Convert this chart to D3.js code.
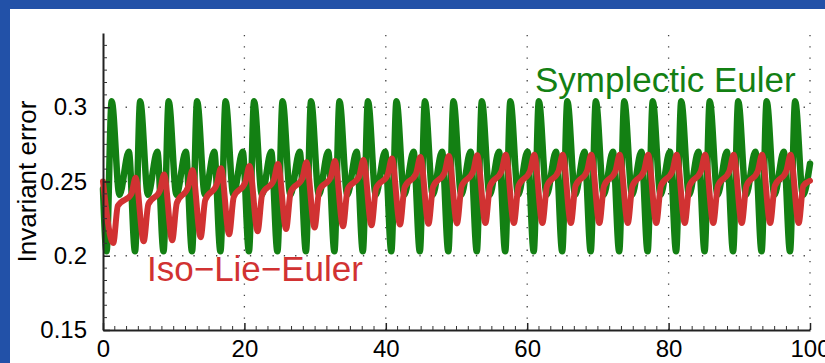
<!DOCTYPE html>
<html>
<head>
<meta charset="utf-8">
<script src="https://cdn.jsdelivr.net/npm/d3@7"></script>
<style>
  body { margin: 0; }
  svg { display: block; font-family: "Liberation Sans", Arial, sans-serif; }
</style>
</head>
<body>
<div id="chart"></div>
<script>
// axis ticks
const xTicks = [0, 20, 40, 60, 80, 100];
const xTickLabels = ["0", "20", "40", "60", "80", "100"];
const yTicks = [0.15, 0.2, 0.25, 0.3];
const yTickLabels = ["0.15", "0.2", "0.25", "0.3"];
const yLabel = "Invariant error";

// Symplectic Euler (peak / shallow dip / second peak / deep dip)
const greenX = [0, 0.5,
  1.23, 2.33, 3.65, 4.53, 5.26, 6.36, 7.68, 8.56, 9.29, 10.39, 11.71, 12.59,
  13.31, 14.41, 15.73, 16.61, 17.34, 18.44, 19.76, 20.64, 21.37, 22.47, 23.79, 24.67,
  25.40, 26.50, 27.82, 28.70, 29.43, 30.53, 31.85, 32.73, 33.45, 34.55, 35.87, 36.75,
  37.48, 38.58, 39.90, 40.78, 41.51, 42.61, 43.93, 44.81, 45.54, 46.64, 47.96, 48.84,
  49.57, 50.67, 51.99, 52.87, 53.59, 54.69, 56.01, 56.89, 57.62, 58.72, 60.04, 60.92,
  61.65, 62.75, 64.07, 64.95, 65.68, 66.78, 68.10, 68.98, 69.71, 70.81, 72.13, 73.01,
  73.73, 74.83, 76.15, 77.03, 77.76, 78.86, 80.18, 81.06, 81.79, 82.89, 84.21, 85.09,
  85.82, 86.92, 88.24, 89.12, 89.85, 90.95, 92.27, 93.15, 93.87, 94.97, 96.29, 97.17,
  97.90, 99.00, 100];
const greenY = [0.245, 0.203,
  0.304, 0.241, 0.270, 0.203, 0.304, 0.241, 0.270, 0.203, 0.304, 0.241, 0.270, 0.203,
  0.304, 0.241, 0.270, 0.203, 0.304, 0.241, 0.270, 0.203, 0.304, 0.241, 0.270, 0.203,
  0.304, 0.241, 0.270, 0.203, 0.304, 0.241, 0.270, 0.203, 0.304, 0.241, 0.270, 0.203,
  0.304, 0.241, 0.270, 0.203, 0.304, 0.241, 0.270, 0.203, 0.304, 0.241, 0.270, 0.203,
  0.304, 0.241, 0.270, 0.203, 0.304, 0.241, 0.270, 0.203, 0.304, 0.241, 0.270, 0.203,
  0.304, 0.241, 0.270, 0.203, 0.304, 0.241, 0.270, 0.203, 0.304, 0.241, 0.270, 0.203,
  0.304, 0.241, 0.270, 0.203, 0.304, 0.241, 0.270, 0.203, 0.304, 0.241, 0.270, 0.203,
  0.304, 0.241, 0.270, 0.203, 0.304, 0.241, 0.270, 0.203, 0.304, 0.241, 0.270, 0.203,
  0.304, 0.241, 0.262];

// Iso-Lie-Euler (dip / knee / shoulder / peak)
const redX = [0,
  1.45, 2.10, 4.01, 4.61, 5.76, 6.41, 8.04, 8.64, 9.79, 10.44, 12.06, 12.66,
  13.81, 14.46, 16.09, 16.69, 17.84, 18.49, 20.12, 20.72, 21.87, 22.52, 24.15, 24.75,
  25.90, 26.55, 28.18, 28.78, 29.93, 30.58, 32.20, 32.80, 33.95, 34.60, 36.23, 36.83,
  37.98, 38.63, 40.26, 40.86, 42.01, 42.66, 44.29, 44.89, 46.04, 46.69, 48.32, 48.92,
  50.07, 50.72, 52.34, 52.94, 54.09, 54.74, 56.37, 56.97, 58.12, 58.77, 60.40, 61.00,
  62.15, 62.80, 64.43, 65.03, 66.18, 66.83, 68.46, 69.06, 70.21, 70.86, 72.48, 73.08,
  74.23, 74.88, 76.51, 77.11, 78.26, 78.91, 80.54, 81.14, 82.29, 82.94, 84.57, 85.17,
  86.32, 86.97, 88.60, 89.20, 90.35, 91.00, 92.62, 93.22, 94.37, 95.02, 96.65, 97.25,
  98.40, 99.05, 100];
const redY = [0.250,
  0.2086, 0.2336, 0.2415, 0.2525, 0.2097, 0.2347, 0.2437, 0.2547, 0.2105, 0.2355, 0.2465, 0.2575,
  0.2125, 0.2375, 0.2480, 0.2590, 0.2145, 0.2395, 0.2494, 0.2604, 0.2165, 0.2415, 0.2508, 0.2618,
  0.2180, 0.2430, 0.2520, 0.2630, 0.2190, 0.2440, 0.2528, 0.2638, 0.2198, 0.2448, 0.2535, 0.2645,
  0.2205, 0.2455, 0.2545, 0.2655, 0.2210, 0.2460, 0.2555, 0.2665, 0.2215, 0.2465, 0.2562, 0.2672,
  0.2218, 0.2468, 0.2566, 0.2676, 0.2220, 0.2470, 0.2570, 0.2680, 0.2220, 0.2470, 0.2570, 0.2680,
  0.2220, 0.2470, 0.2570, 0.2680, 0.2220, 0.2470, 0.2570, 0.2680, 0.2220, 0.2470, 0.2570, 0.2680,
  0.2220, 0.2470, 0.2570, 0.2680, 0.2220, 0.2470, 0.2570, 0.2680, 0.2220, 0.2470, 0.2570, 0.2680,
  0.2220, 0.2470, 0.2570, 0.2680, 0.2220, 0.2470, 0.2570, 0.2680, 0.2220, 0.2470, 0.2570, 0.2680,
  0.2220, 0.2470, 0.2505];

const series = [
  { name: "Symplectic Euler", color: "#138013", width: 6.5, xs: greenX, ys: greenY },
  { name: "Iso\u2212Lie\u2212Euler", color: "#d13232", width: 6, xs: redX, ys: redY },
];

const W = 825, H = 363;
const margin = { top: 33, right: 15, bottom: 33, left: 103 };

const svg = d3.select("#chart").append("svg")
  .attr("width", W)
  .attr("height", H);

// slide background and white panel
svg.append("rect").attr("width", W).attr("height", H).attr("fill", "#2251a8");
svg.append("rect").attr("x", 10).attr("y", 9).attr("width", W - 10).attr("height", H - 9).attr("fill", "#fff");

const x = d3.scaleLinear().domain([0, 100]).range([margin.left, W - margin.right]);
const y = d3.scaleLinear().domain([0.15, 0.35]).range([H - margin.bottom, margin.top]);

// dotted grid
const grid = svg.append("g").attr("stroke", "#444").attr("stroke-width", 1.3)
  .attr("stroke-dasharray", "1.3,10");
grid.selectAll(".gx").data(xTicks.slice(1)).enter().append("line")
  .attr("x1", d => x(d)).attr("x2", d => x(d))
  .attr("y1", y(0.15)).attr("y2", y(0.35));
grid.selectAll(".gy").data(yTicks.slice(1)).enter().append("line")
  .attr("x1", x(0)).attr("x2", x(100))
  .attr("y1", d => y(d)).attr("y2", d => y(d));

// series
const line = d3.line().curve(d3.curveMonotoneX)
  .x(d => x(d[0]))
  .y(d => y(d[1]));

svg.selectAll(".series").data(series).enter().append("path")
  .attr("class", "series")
  .attr("fill", "none")
  .attr("stroke", d => d.color)
  .attr("stroke-width", d => d.width)
  .attr("stroke-linejoin", "round")
  .attr("stroke-linecap", "round")
  .attr("d", d => line(d.xs.map((v, i) => [v, d.ys[i]])));

// axes (ticks point inward)
const xMinor = d3.range(0, 100.01, 20 / 12).filter(v => Math.abs(v / 20 - Math.round(v / 20)) > 1e-6);
const yMinor = d3.range(0.15, 0.3501, 0.05 / 6).filter(v => Math.abs(v / 0.05 - Math.round(v / 0.05)) > 1e-6);

const xAxis = svg.append("g")
  .attr("transform", `translate(0,${y(0.15)})`)
  .call(d3.axisBottom(x).tickValues(xTicks).tickSizeInner(-7).tickSizeOuter(0).tickPadding(14)
    .tickFormat((d, i) => xTickLabels[i]));
xAxis.append("g").selectAll("line").data(xMinor).enter().append("line")
  .attr("x1", d => x(d)).attr("x2", d => x(d)).attr("y1", 0).attr("y2", -4)
  .attr("stroke", "#333");

const yAxis = svg.append("g")
  .attr("transform", `translate(${x(0)},0)`)
  .call(d3.axisLeft(y).tickValues(yTicks).tickSizeInner(-7).tickSizeOuter(0).tickPadding(16)
    .tickFormat((d, i) => yTickLabels[i]));
yAxis.append("g").selectAll("line").data(yMinor).enter().append("line")
  .attr("x1", 0).attr("x2", 4).attr("y1", d => y(d)).attr("y2", d => y(d))
  .attr("stroke", "#333");

svg.selectAll(".domain").attr("stroke", "#222").attr("stroke-width", 2);
svg.selectAll(".tick line").attr("stroke", "#222").attr("stroke-width", 1.5);
svg.selectAll(".tick text").attr("font-size", 24).attr("fill", "#000")
  .attr("font-family", "Liberation Sans, Arial, sans-serif");
xAxis.selectAll(".tick text").attr("dy", "0.55em");

// y label
svg.append("text")
  .attr("transform", `translate(36,${(y(0.15) + y(0.35)) / 2}) rotate(-90)`)
  .attr("text-anchor", "middle")
  .attr("font-size", 26)
  .text(yLabel);

// in-plot labels
svg.append("text").attr("x", 535).attr("y", 92)
  .attr("font-size", 35).attr("fill", series[0].color).text(series[0].name);
svg.append("text").attr("x", 147).attr("y", 281)
  .attr("font-size", 35).attr("fill", series[1].color).text(series[1].name);
</script>
</body>
</html>
